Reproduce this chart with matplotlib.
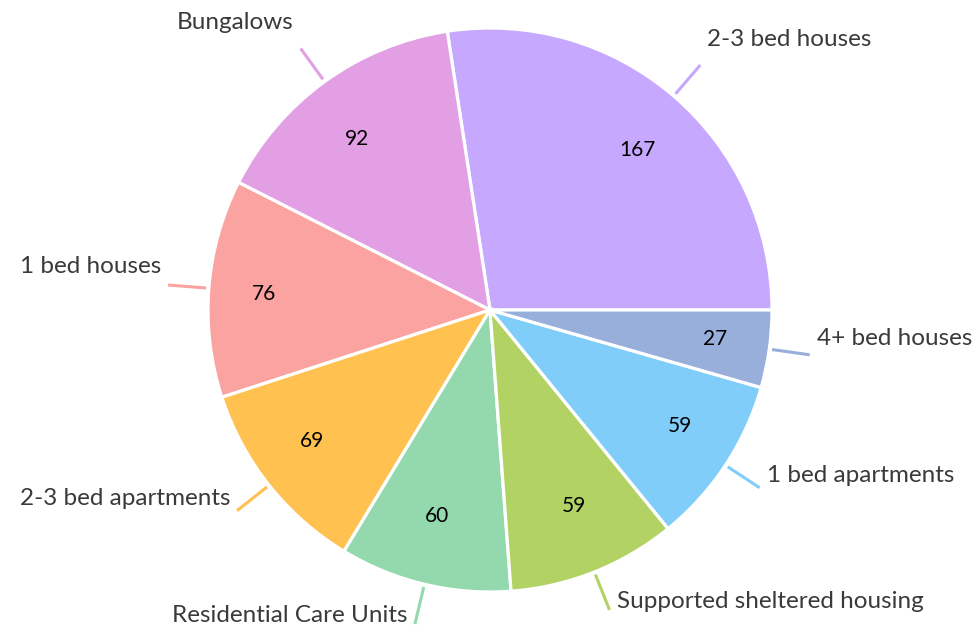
import numpy as np
import matplotlib
matplotlib.use("Agg")
import matplotlib.pyplot as plt

categories = ["2-3 bed houses", "Bungalows", "1 bed houses", "2-3 bed apartments",
              "Residential Care Units", "Supported sheltered housing",
              "1 bed apartments", "4+ bed houses"]
values = [167, 92, 76, 69, 60, 59, 59, 27]
colors = ["#C6A8FE", "#E29FE4", "#FAA3A1", "#FFC150",
          "#93D9AD", "#B2D363", "#81CDFA", "#98AFDC"]

plt.rcParams['font.family'] = ['Lato', 'DejaVu Sans']

W, H = 979, 627
fig = plt.figure(figsize=(W / 100, H / 100), dpi=100)
ax = fig.add_axes([0, 0, 1, 1])

R = 282.0  # pie radius in pixels
cx, cy = 490, H - 310  # pie centre, pixels from bottom-left

wedges, _ = ax.pie(values, colors=colors, startangle=0, counterclock=True,
                   wedgeprops=dict(edgecolor="white", linewidth=2.3))

ax.set_xlim(-cx / R, (W - cx) / R)
ax.set_ylim(-cy / R, (H - cy) / R)
ax.set_aspect("auto")
ax.axis("off")

px = 1.0 / R
for w, lab, v in zip(wedges, categories, values):
    ang = np.deg2rad((w.theta1 + w.theta2) / 2)
    c, s = np.cos(ang), np.sin(ang)
    # value inside the slice
    ax.text(0.805 * c, 0.75 * s, str(v), ha="center", va="center",
            fontsize=15, color="black")
    # leader line + category label
    x0, y0 = 1.01 * c, 1.01 * s
    x1, y1 = 1.145 * c, 1.145 * s
    ax.plot([x0, x1], [y0, y1], color=w.get_facecolor(), lw=2.2,
            solid_capstyle="butt", clip_on=False)
    side = 1 if c >= 0 else -1
    tx = x1 + side * 7 * px
    ty = y1 + (18 + 10 * s) * px
    ax.text(tx, ty, lab, ha="left" if side > 0 else "right", va="center",
            fontsize=17.5, color="#3a3a3a")

fig.savefig("out.png", dpi=100)
